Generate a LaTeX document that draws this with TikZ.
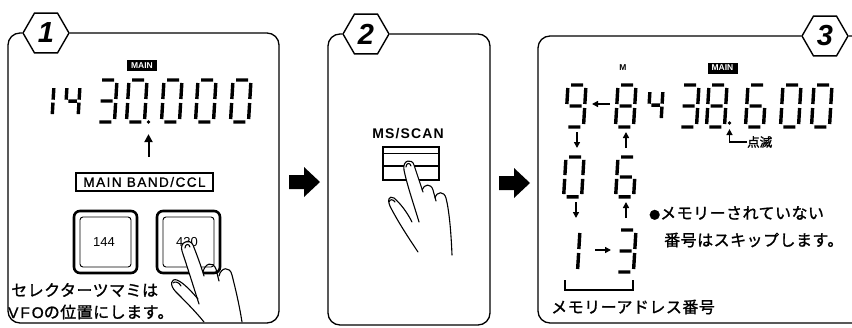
\documentclass[tikz,border=0pt]{standalone}
\usepackage{fontspec}
\setmainfont{Liberation Sans}
\newfontfamily\jpfont{Noto Sans CJK JP}[LetterSpace=3, FakeBold=1.3]
\newfontfamily\jpnarrow{Noto Sans CJK JP}[FakeBold=1.6]
\newfontfamily\widesans{Liberation Sans}[LetterSpace=11, FakeBold=1.2]
\newfontfamily\vfofont{Liberation Sans}[LetterSpace=12, FakeBold=0.8]
\newfontfamily\msfont{Liberation Sans}[LetterSpace=8]
\usetikzlibrary{shapes.geometric,arrows.meta}

\tikzset{
  panel/.style={line width=1.3pt, rounded corners=12pt},
  hexlabel/.style={regular polygon, regular polygon sides=6, draw, line width=1.4pt,
    minimum size=46pt, inner sep=0pt, fill=white,
    font=\fontsize{29}{29}\selectfont\bfseries\itshape},
  badge/.style={fill=black, text=white, inner sep=0pt, minimum width=30pt,
    minimum height=11pt, font=\fontsize{8.5}{8.5}\selectfont\bfseries},
  jptext/.style={inner sep=0pt, anchor=west, font=\jpfont\fontsize{16}{16}\selectfont},
  segline/.style={line width=3.4pt, line cap=butt},
  seg/.style={seg-#1},
  seg-a/.style={insert path={(3,0)--(15,0)}},
  seg-b/.style={insert path={(18,3)--(18,19)}},
  seg-c/.style={insert path={(18,23)--(18,39)}},
  seg-d/.style={insert path={(3,42)--(15,42)}},
  seg-e/.style={insert path={(0,23)--(0,39)}},
  seg-f/.style={insert path={(0,3)--(0,19)}},
  seg-g/.style={insert path={(3,21)--(15,21)}},
  pics/lcd/.style={code={\draw[segline, seg/.list={#1}];}},
  bigdigit/.style={xslant=0.06},
  smalldigit/.style={xslant=0.06, scale=0.72},
  tinyarrow/.style={line width=1.5pt, -{Triangle[length=6pt,width=6pt]}},
  hand/.style={line width=1.1pt, line cap=round, line join=round},
}

\begin{document}
\begin{tikzpicture}[x=1pt,y=-1pt]
\useasboundingbox (0,0) rectangle (852,327);
\clip (0,0) rectangle (852,327);

% ---------- step tags and frames ----------
\node[hexlabel] (h1) at (46,33) {1};
\node[hexlabel] (h2) at (366,34) {2};
\node[hexlabel] (h3) at (825,36) {3};

\draw[panel] (h1.west) -| (8,323) -| (279,33) -- (h1.east);
\draw[panel] (h2.west) -| (328,325) -| (490,34) -- (h2.east);
\draw[panel] (h3.west) -| (538,323) -| (866,36) -- (h3.east);

% ---------- arrows between the steps ----------
\fill (289,175) -- (304,175) -- (304,167) -- (320,182) -- (304,197) -- (304,189) -- (289,189) -- cycle;
\fill (499,176) -- (514,176) -- (514,168) -- (530,183) -- (514,198) -- (514,190) -- (499,190) -- cycle;

% ---------- step 1 ----------
\node[badge] (main1) at (142,65.5) {MAIN};
\pic[smalldigit] at (41,86) {lcd={b,c}};
\pic[smalldigit] at (67,86) {lcd={f,g,b,c}};
\pic[bigdigit] at (99,80) {lcd={a,b,c,d,g}};
\pic[bigdigit] at (129,80) {lcd={a,b,c,d,e,f}};
\pic[bigdigit] at (164,80) {lcd={a,b,c,d,e,f}};
\pic[bigdigit] at (198,80) {lcd={a,b,c,d,e,f}};
\pic[bigdigit] at (233,80) {lcd={a,b,c,d,e,f}};
\node[circle, fill, inner sep=0pt, minimum size=3.8pt] (dp1) at (148.5,122) {};

\node[draw, line width=1.3pt, minimum width=137pt, minimum height=18pt, inner sep=0pt,
  font=\widesans\fontsize{13.5}{13.5}\selectfont] (band) at (144.5,182) {MAIN BAND/CCL};
\draw[line width=2pt, -{Triangle[length=8pt,width=8pt]}] ([yshift=-33pt]dp1.south) -- ([yshift=-10pt]dp1.south);

\draw[line width=2.6pt, rounded corners=6pt] (74,211) rectangle (137,273);
\draw[line width=0.9pt, rounded corners=3pt] (80,217) rectangle (131,267);
\node[font=\fontsize{13}{13}\selectfont] (b144) at (104,242) {144};
\draw[line width=2.6pt, rounded corners=6pt] (157,211) rectangle (220,273);
\draw[line width=0.9pt, rounded corners=3pt] (163,217) rectangle (214,267);
\node[font=\fontsize{13}{13}\selectfont] (b430) at (187,242) {430};

% hand pressing the 430 key
\fill[white] (199,304) .. controls (193,285) and (186,263) .. (182,251)
  .. controls (179,242) and (190,238) .. (193,245)
  .. controls (197,255) and (201,266) .. (204,276) -- (215,300) -- cycle;
\draw[hand] (199,304) .. controls (193,285) and (186,263) .. (182,251)
  .. controls (179,242) and (190,238) .. (193,245)
  .. controls (197,255) and (201,266) .. (204,276);
\draw[hand] (185,248) .. controls (185,244) and (189,243) .. (190,247);
\draw[hand] (203,272) .. controls (205,263) and (213,261) .. (216,269)
  .. controls (217,273) and (218,277) .. (219,281);
\draw[hand] (219,276) .. controls (221,267) and (230,266) .. (232,275)
  .. controls (235,287) and (239,303) .. (242,322);
\draw[hand] (204,322) .. controls (196,312) and (184,300) .. (176,292)
  .. controls (169,285) and (171,278) .. (177,280)
  .. controls (184,283) and (192,292) .. (198,299);
\draw[hand] (173,283) .. controls (175,281) and (179,282) .. (181,286);

\node[jptext] (sel) at (11,290) {セレクターツマミは};
\node[jptext] (vfo) at (8,312) {{\vfofont\fontsize{15.5}{15.5}\selectfont VFO}の位置にします。};

% ---------- step 2 ----------
\node[font=\msfont\bfseries\fontsize{14}{14}\selectfont] (ms) at (408,134) {MS/SCAN};
\draw[line width=2.2pt] (383,147) rectangle (439,180);
\draw[line width=0.7pt] (383,153) -- (439,153);
\draw[line width=1.4pt] (383,166) -- (439,166);

\fill[white] (419,222) .. controls (414,205) and (407,185) .. (404,170)
  .. controls (402,160) and (412,158) .. (414,165)
  .. controls (417,174) and (420,183) .. (423,192) -- (430,215) -- cycle;
\draw[hand] (419,222) .. controls (414,205) and (407,185) .. (404,170)
  .. controls (402,160) and (412,158) .. (414,165)
  .. controls (417,174) and (420,183) .. (423,192);
\draw[hand] (406,167) .. controls (406,163) and (410,162) .. (411,166);
\draw[hand] (422,190) .. controls (424,184) and (431,183) .. (433,190)
  .. controls (434,194) and (435,197) .. (436,201);
\draw[hand] (435,198) .. controls (437,191) and (444,191) .. (446,198)
  .. controls (449,210) and (451,230) .. (452,255);
\draw[hand] (418,252) .. controls (410,240) and (400,225) .. (392,210)
  .. controls (386,200) and (389,195) .. (394,198)
  .. controls (400,203) and (407,212) .. (412,222);
\draw[hand] (389,202) .. controls (390,199) and (393,199) .. (395,202);

% ---------- step 3 ----------
\node[font=\fontsize{8.5}{8.5}\selectfont\bfseries, inner sep=0pt] (mlabel) at (623,68) {M};
\node[badge] (main3) at (722.5,68) {MAIN};
\pic[bigdigit] at (568,85) {lcd={a,b,c,d,f,g}};
\pic[bigdigit] at (618,85) {lcd={a,b,c,d,e,f,g}};
\pic[smalldigit] at (650,90) {lcd={f,g,b,c}};
\pic[bigdigit] at (681,85) {lcd={a,b,c,d,g}};
\pic[bigdigit] at (709,85) {lcd={a,b,c,d,e,f,g}};
\pic[bigdigit] at (748,85) {lcd={a,c,d,e,f,g}};
\pic[bigdigit] at (783,85) {lcd={a,b,c,d,e,f}};
\pic[bigdigit] at (814,85) {lcd={a,b,c,d,e,f}};
\node[circle, fill, inner sep=0pt, minimum size=3.8pt] (dp3) at (729.5,123) {};

\pic[bigdigit, yscale=0.95] at (566,157) {lcd={a,b,c,d,e,f}};
\pic[bigdigit, yscale=0.95] at (618,157) {lcd={a,c,d,e,f,g}};
\pic[bigdigit] at (562,230) {lcd={b,c}};
\pic[bigdigit] at (618,230) {lcd={a,b,c,d,g}};

\draw[tinyarrow] (610,104) -- (592,104);
\draw[tinyarrow] (577,132) -- (577,148);
\draw[tinyarrow] (626,148) -- (626,132);
\draw[tinyarrow] (576,202) -- (576,218);
\draw[tinyarrow] (626,218) -- (626,202);
\draw[tinyarrow] (595,250) -- (611,250);

\node[font=\jpnarrow\fontsize{12.5}{12.5}\selectfont, anchor=west, inner sep=0pt] (blink) at (747,142) {点滅};
\draw[tinyarrow] (blink.west) -| ([yshift=-4pt]dp3.south);

\draw[line width=1.1pt] (565,280) |- (633,290) -- (633,280);

\node[jptext] (skip1) at (649,213) {{\fontsize{11}{11}\selectfont ●}メモリーされていない};
\node[jptext] (skip2) at (664,240) {番号はスキップします。};
\node[jptext] (addr) at (551,307) {メモリーアドレス番号};
\end{tikzpicture}
\end{document}
